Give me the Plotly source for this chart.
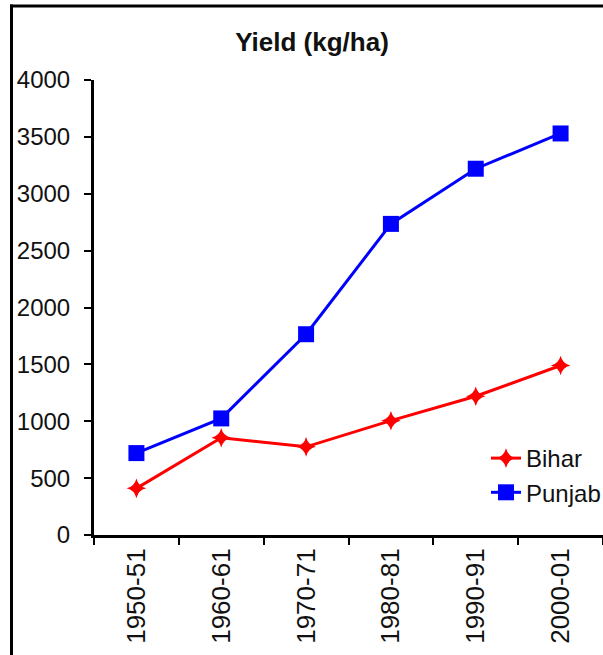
import plotly.graph_objects as go

categories = ["1950-51", "1960-61", "1970-71", "1980-81", "1990-91", "2000-01"]
bihar = [410, 855, 775, 1005, 1220, 1490]
punjab = [720, 1025, 1765, 2735, 3220, 3530]
y_ticks = [0, 500, 1000, 1500, 2000, 2500, 3000, 3500, 4000]

FONT = "Liberation Sans, Arial, sans-serif"

fig = go.Figure()
fig.add_trace(go.Scatter(
    x=categories, y=bihar, name="Bihar", mode="lines+markers",
    line=dict(color="#FF0000", width=3),
    marker=dict(symbol="star-diamond", size=14, color="#FF0000"),
))
fig.add_trace(go.Scatter(
    x=categories, y=punjab, name="Punjab", mode="lines+markers",
    line=dict(color="#0000FF", width=3),
    marker=dict(symbol="square", size=16, color="#0000FF"),
))

W, H = 603, 655
L, R, T, B = 94, 0, 80, 120
pw = W - L - R
ph = H - T - B

def px_x(p):
    return (p - L) / pw

def px_y(p):
    return (H - B - p) / ph

fig.update_layout(
    width=W, height=H,
    margin=dict(l=L, r=R, t=T, b=B, pad=0, autoexpand=False),
    paper_bgcolor="white", plot_bgcolor="white",
    font=dict(family=FONT, color="#111111", size=24),
    title=dict(text="<b>Yield (kg/ha)</b>", font=dict(size=26, family=FONT, color="#111111"),
               x=312 / W, xanchor="center", xref="container",
               y=1 - 42 / H, yanchor="middle", yref="container"),
    xaxis=dict(
        type="category", range=[-0.5, 5.5], automargin=False,
        showline=True, linecolor="black", linewidth=3,
        ticks="outside", ticklen=7, tickwidth=2, tickcolor="black",
        tickson="boundaries", tickangle=-90,
        tickfont=dict(size=26, family=FONT, color="#111111"),
        showgrid=False, zeroline=False,
    ),
    yaxis=dict(
        range=[0, 4000], tickvals=y_ticks, automargin=False,
        showline=True, linecolor="black", linewidth=3,
        ticks="outside", ticklen=7, tickwidth=2, tickcolor="black",
        tickfont=dict(size=24, family=FONT, color="#111111"),
        ticklabelstandoff=9,
        showgrid=False, zeroline=False,
    ),
    legend=dict(
        x=px_x(486), y=px_y(436), xanchor="left", yanchor="top",
        font=dict(size=24, family=FONT, color="#111111"),
        bgcolor="rgba(0,0,0,0)", borderwidth=0,
        tracegroupgap=0,
    ),
    showlegend=True,
    shapes=[
        dict(type="line", xref="paper", yref="paper",
             x0=px_x(11.5), x1=px_x(11.5), y0=px_y(4.5), y1=px_y(660),
             line=dict(color="black", width=3)),
        dict(type="line", xref="paper", yref="paper",
             x0=px_x(10), x1=px_x(610), y0=px_y(6), y1=px_y(6),
             line=dict(color="black", width=3)),
    ],
)

fig.write_html("out.html", config={"displayModeBar": False},
               post_script="document.body.style.margin='0';document.body.style.overflow='hidden';")
